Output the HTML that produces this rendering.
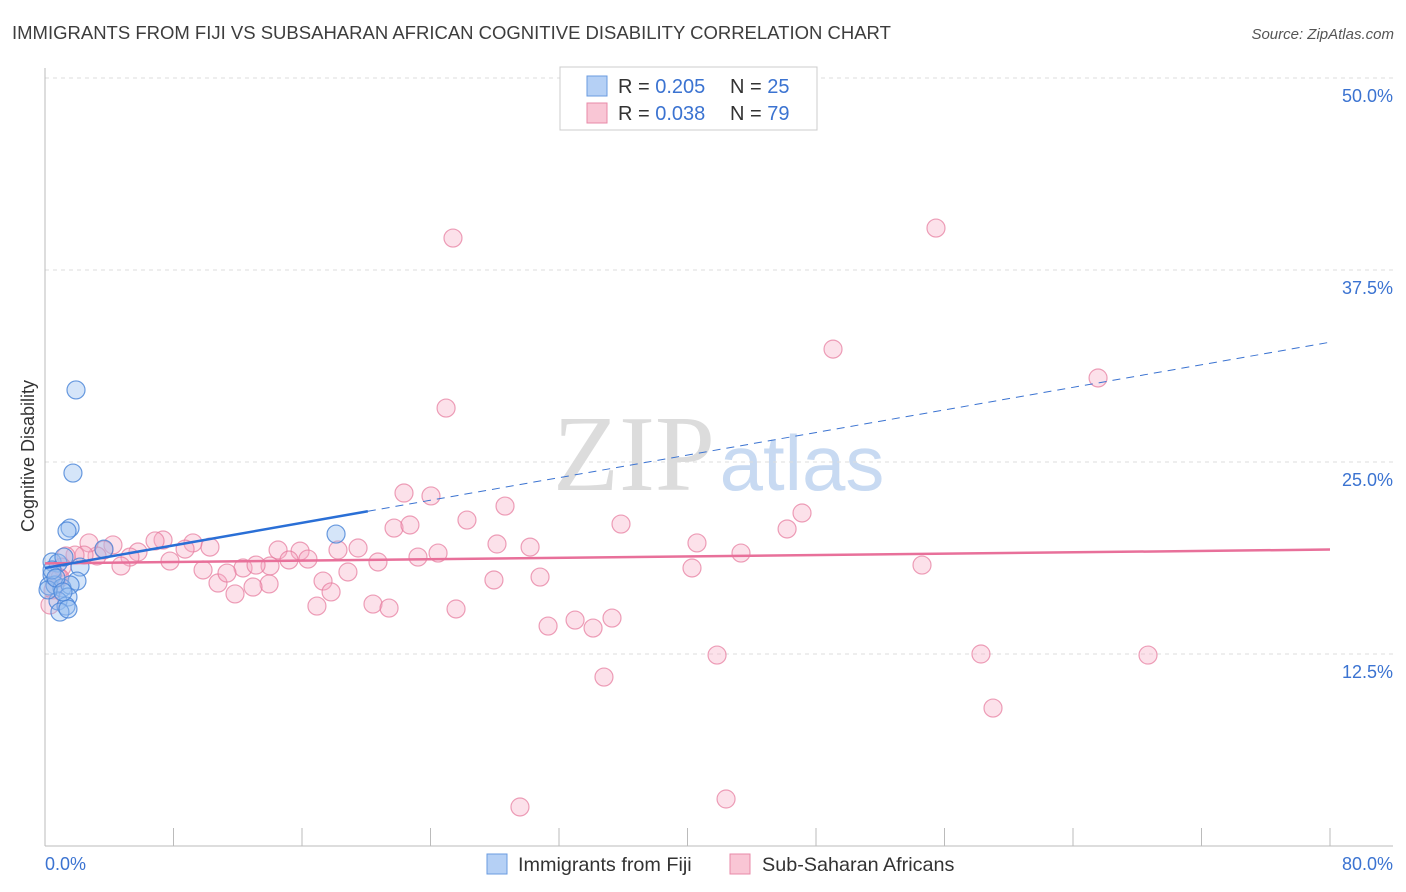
<!DOCTYPE html>
<html><head><meta charset="utf-8"><style>
body{margin:0;background:#fff;font-family:"Liberation Sans",sans-serif}
svg{display:block}
</style></head><body>
<svg id="c" width="1406" height="892" xmlns="http://www.w3.org/2000/svg">
<text x="12" y="39" font-size="18.5" fill="#3d3d3d">IMMIGRANTS FROM FIJI VS SUBSAHARAN AFRICAN COGNITIVE DISABILITY CORRELATION CHART</text>
<text x="1394" y="39" font-size="15" fill="#555" font-style="italic" text-anchor="end">Source: ZipAtlas.com</text>
<text x="0" y="0" transform="translate(34,456) rotate(-90)" font-size="18" fill="#333" text-anchor="middle">Cognitive Disability</text>
<g><text x="634" y="490" font-family="Liberation Serif,serif" font-size="108" fill="#dcdcdc" text-anchor="middle">ZIP</text><text x="802" y="490" font-size="78" fill="#c8daf2" text-anchor="middle">atlas</text></g>
<g id="grid"></g><g id="axes"></g><g id="marks"></g>
<g>
<rect x="560" y="67" width="257" height="63" fill="#fff" stroke="#ccc"/>
<rect x="587" y="76" width="20" height="20" fill="#b5d0f5" stroke="#6a9be0"/>
<rect x="587" y="103" width="20" height="20" fill="#f9c6d5" stroke="#e88aa8"/>
<text x="618" y="93" font-size="20" fill="#333">R = <tspan fill="#3b73d1">0.205</tspan><tspan x="730">N = </tspan><tspan fill="#3b73d1">25</tspan></text>
<text x="618" y="120" font-size="20" fill="#333">R = <tspan fill="#3b73d1">0.038</tspan><tspan x="730">N = </tspan><tspan fill="#3b73d1">79</tspan></text>
</g>
<g>
<rect x="487" y="854" width="20" height="20" fill="#b5d0f5" stroke="#6a9be0"/>
<text x="518" y="871" font-size="19.8" fill="#333">Immigrants from Fiji</text>
<rect x="730" y="854" width="20" height="20" fill="#f9c6d5" stroke="#e88aa8"/>
<text x="762" y="871" font-size="19.8" fill="#333">Sub-Saharan Africans</text>
</g>
</svg>
<script>
const yTicks=[12.5,25,37.5,50];
const yTickLabels=["12.5%","25.0%","37.5%","50.0%"];
const xTickCount=10;
const xLabels=["0.0%","80.0%"];
const fijiX=[1.93,1.74,1.56,1.37,3.67,18.12,0.44,0.81,1.18,2.18,1.99,0.44,0.25,0.62,1.06,1.56,1.43,0.81,1.31,0.93,1.43,0.19,0.44,0.68,1.12];
const fijiY=[29.69,24.28,20.70,20.51,19.33,20.31,18.49,18.42,18.81,18.16,17.25,17.64,16.93,16.99,16.80,16.99,16.21,15.95,15.62,15.23,15.43,16.67,17.97,17.45,16.54];
const afrX=[25.40,55.47,49.06,65.56,24.97,22.35,24.03,28.64,26.27,35.86,47.13,46.20,21.73,22.72,40.59,43.33,28.14,30.20,24.47,23.22,20.73,18.86,19.49,18.24,15.88,14.51,15.19,16.37,17.31,17.81,16.93,20.42,21.42,25.59,27.95,30.82,31.32,33.00,34.12,35.30,34.80,29.57,42.40,41.84,40.28,54.60,58.27,59.02,68.67,13.95,12.95,11.83,10.77,12.33,11.33,9.84,10.27,9.21,8.72,7.78,7.35,6.85,5.79,5.29,4.73,4.23,3.67,3.24,2.74,2.43,1.87,1.31,1.06,0.81,0.50,0.31,0.93,14.01,13.14];
const afrY=[39.58,40.23,32.35,30.47,28.51,22.98,22.79,22.13,21.22,20.96,21.68,20.64,20.70,20.90,19.73,19.07,19.66,19.46,19.07,18.81,18.49,17.84,19.40,19.27,19.20,19.27,18.62,18.68,17.25,16.54,15.62,15.75,15.49,15.43,17.32,17.51,14.32,14.71,14.19,14.84,11.00,2.54,3.06,12.43,18.10,18.29,12.50,8.98,12.43,17.06,16.86,16.41,17.12,18.10,17.77,17.97,19.46,19.73,19.33,18.55,19.92,19.86,19.14,18.81,18.23,19.60,19.27,18.88,19.73,18.94,18.94,18.88,18.16,17.51,16.67,15.69,17.45,18.23,18.29];
const fijiTrend=[18.1,32.8];
const fijiSolidEnd=20.1;
const afrTrend=[18.4,19.3];
const X=v=>45+v/80*1285, Y=v=>846-v/12.5*192;
const NS="http://www.w3.org/2000/svg";
function mk(t,a,p){const e=document.createElementNS(NS,t);for(const k in a)e.setAttribute(k,a[k]);p.appendChild(e);return e;}
const grid=document.getElementById('grid'),axes=document.getElementById('axes'),marks=document.getElementById('marks');
yTicks.forEach((t,i)=>{
 const l=mk('line',{x1:45,x2:1393,y1:Y(t),y2:Y(t),stroke:'#ddd','stroke-dasharray':'4,4'},grid);
 
 
 const tx=mk('text',{x:1393,y:Y(t)+24,'font-size':18,fill:'#3b73d1','text-anchor':'end'},axes);tx.textContent=yTickLabels[i];
 
 
});
mk('line',{x1:45,x2:45,y1:68,y2:846,stroke:'#bbb'},axes);
mk('line',{x1:45,x2:1393,y1:846,y2:846,stroke:'#bbb'},axes);
for(let i=0;i<=xTickCount;i++){const x=X(i*8);const t=mk('line',{x1:x,x2:x,y1:828,y2:846,stroke:'#bbb'},axes);
 
 }
const x0=mk('text',{x:45,y:870,'font-size':18,fill:'#3b73d1'},axes);x0.textContent=xLabels[0];


const x1=mk('text',{x:1393,y:870,'font-size':18,fill:'#3b73d1','text-anchor':'end'},axes);x1.textContent=xLabels[1];


afrX.forEach((v,i)=>{const c=mk('circle',{cx:X(v),cy:Y(afrY[i]),r:9,fill:'rgba(245,170,195,0.35)',stroke:'rgba(230,120,155,0.7)','stroke-width':1.2},marks);
 
 });
fijiX.forEach((v,i)=>{const c=mk('circle',{cx:X(v),cy:Y(fijiY[i]),r:9,fill:'rgba(150,190,240,0.4)',stroke:'rgba(70,130,215,0.8)','stroke-width':1.2},marks);
 
 });
const fy=x=>fijiTrend[0]+(fijiTrend[1]-fijiTrend[0])*x/80;
const a=mk('line',{x1:X(0),y1:Y(afrTrend[0]),x2:X(80),y2:Y(afrTrend[1]),stroke:'#e8709a','stroke-width':2.5},marks);


const b=mk('line',{x1:X(0),y1:Y(fy(0)),x2:X(fijiSolidEnd),y2:Y(fy(fijiSolidEnd)),stroke:'#2a6fd6','stroke-width':2.5},marks);


const d=mk('line',{x1:X(fijiSolidEnd),y1:Y(fy(fijiSolidEnd)),x2:X(80),y2:Y(fy(80)),stroke:'#3b73d1','stroke-width':1,'stroke-dasharray':'8,6'},marks);


</script>
</body></html>
